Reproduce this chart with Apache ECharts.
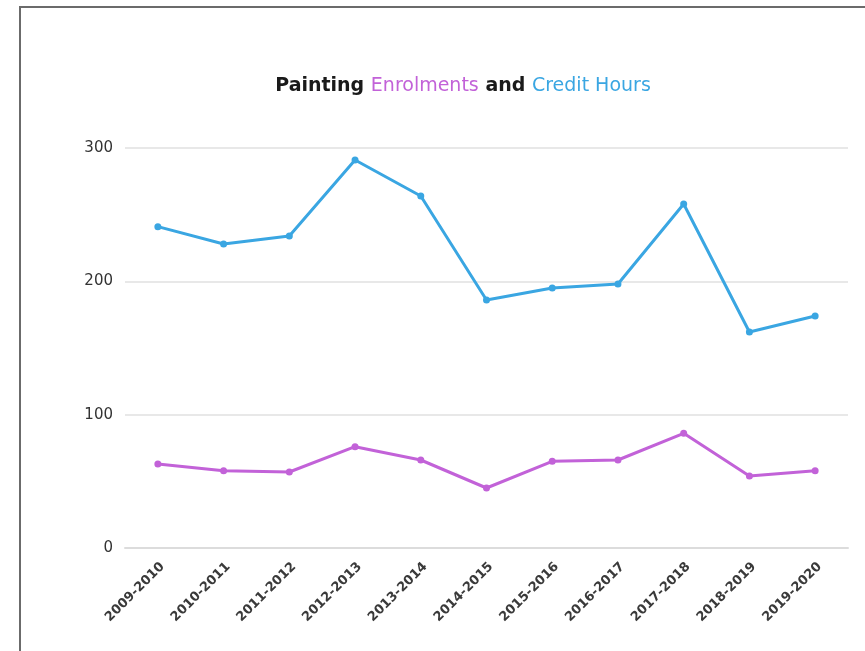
<!DOCTYPE html>
<html>
<head>
<meta charset="utf-8">
<script src="https://cdn.jsdelivr.net/npm/echarts@6/dist/echarts.min.js"></script>
<style>
  html, body { margin: 0; padding: 0; background: #fff; }
  #chart { width: 865px; height: 651px; }
</style>
</head>
<body>
<div id="chart"></div>
<script>
// school years on the x axis
var years = ["2009-2010", "2010-2011", "2011-2012", "2012-2013", "2013-2014", "2014-2015",
             "2015-2016", "2016-2017", "2017-2018", "2018-2019", "2019-2020"];
// values
var creditHours = [241, 228, 234, 291, 264, 186, 195, 198, 258, 162, 174];
var enrolments = [63, 58, 57, 76, 66, 45, 65, 66, 86, 54, 58];
var yTicks = [0, 100, 200, 300];

(function () {
    var blue = "#3aa6e2";
    var purple = "#c262d8";
    var myChart = echarts.init(document.getElementById("chart"));
    var option = {
        animation: false,
        backgroundColor: "#fff",
        // grey frame round the picture
        graphic: [{
            type: "rect",
            shape: { x: 20, y: 7, width: 880, height: 700 },
            style: { fill: "none", stroke: "#6b6b6b", lineWidth: 2 },
            silent: true
        }],
        title: {
            text: "{k|Painting }{p|Enrolments}{k| and }{b|Credit Hours}",
            left: 458,
            textAlign: "center",
            top: 72,
            textStyle: {
                rich: {
                    k: { color: "#1a1a1a", fontSize: 19, fontWeight: "bold", fontFamily: "DejaVu Sans" },
                    p: { color: purple, fontSize: 19, fontWeight: "normal", fontFamily: "DejaVu Sans" },
                    b: { color: blue, fontSize: 19, fontWeight: "normal", fontFamily: "DejaVu Sans" }
                }
            }
        },
        grid: {
            left: 125,
            right: 17,
            top: 148,
            bottom: 103,
            containLabel: false
        },
        xAxis: {
            type: "category",
            data: years,
            boundaryGap: true,
            axisTick: { show: false },
            axisLine: { lineStyle: { color: "#dcdcdc", width: 2 } },
            axisLabel: {
                rotate: 45,
                interval: 0,
                margin: 12,
                verticalAlign: "top",
                color: "#3a3a3a",
                fontSize: 13,
                fontWeight: "bold",
                fontFamily: "DejaVu Sans"
            }
        },
        yAxis: {
            type: "value",
            min: yTicks[0],
            max: yTicks[yTicks.length - 1],
            interval: 100,
            axisLine: { show: false },
            axisTick: { show: false },
            axisLabel: {
                margin: 12,
                color: "#333",
                fontSize: 15,
                fontFamily: "DejaVu Sans"
            },
            splitLine: { lineStyle: { color: "#e8e8e8", width: 2 } }
        },
        series: [
            {
                name: "Credit Hours",
                type: "line",
                data: creditHours,
                symbol: "circle",
                symbolSize: 7,
                color: blue,
                lineStyle: { width: 3, color: blue }
            },
            {
                name: "Enrolments",
                type: "line",
                data: enrolments,
                symbol: "circle",
                symbolSize: 7,
                color: purple,
                lineStyle: { width: 3, color: purple }
            }
        ]
    };
    myChart.setOption(option);
})();
</script>
</body>
</html>
